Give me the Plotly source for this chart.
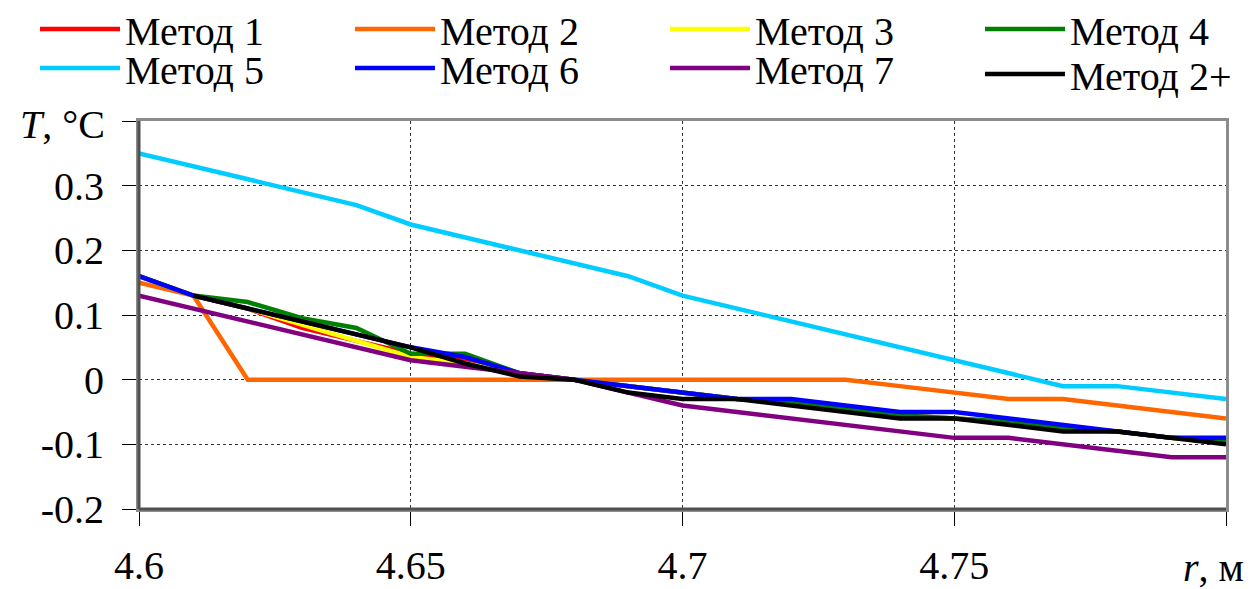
import plotly.graph_objects as go

r = [4.60, 4.61, 4.62, 4.63, 4.64, 4.65, 4.66, 4.67, 4.68, 4.69, 4.70,
     4.71, 4.72, 4.73, 4.74, 4.75, 4.76, 4.77, 4.78, 4.79, 4.80]

names = ["Метод 1", "Метод 2", "Метод 3", "Метод 4",
         "Метод 5", "Метод 6", "Метод 7", "Метод 2+"]

m1 = [0.16, 0.13, 0.11, 0.08, 0.06, 0.04, 0.03, 0.01, 0.0, -0.01, -0.02,
      -0.03, -0.035, -0.045, -0.055, -0.06, -0.065, -0.075, -0.08, -0.09, -0.095]
m2 = [0.15, 0.13, 0.0, 0.0, 0.0, 0.0, 0.0, 0.0, 0.0, 0.0, 0.0,
      0.0, 0.0, 0.0, -0.01, -0.02, -0.03, -0.03, -0.04, -0.05, -0.06]
m3 = [0.16, 0.13, 0.11, 0.085, 0.06, 0.035, 0.025, 0.01, 0.0, -0.01, -0.02,
      -0.03, -0.035, -0.045, -0.055, -0.06, -0.065, -0.075, -0.08, -0.09, -0.095]
m4 = [0.16, 0.13, 0.12, 0.095, 0.08, 0.04, 0.04, 0.01, 0.0, -0.01, -0.02,
      -0.03, -0.035, -0.045, -0.055, -0.06, -0.065, -0.075, -0.08, -0.09, -0.095]
m5 = [0.35, 0.33, 0.31, 0.29, 0.27, 0.24, 0.22, 0.20, 0.18, 0.16, 0.13,
      0.11, 0.09, 0.07, 0.05, 0.03, 0.01, -0.01, -0.01, -0.02, -0.03]
m6 = [0.16, 0.13, 0.11, 0.09, 0.07, 0.05, 0.035, 0.01, 0.0, -0.01, -0.02,
      -0.03, -0.03, -0.04, -0.05, -0.05, -0.06, -0.07, -0.08, -0.09, -0.09]
m7 = [0.13, 0.11, 0.09, 0.07, 0.05, 0.03, 0.02, 0.01, 0.0, -0.02, -0.04,
      -0.05, -0.06, -0.07, -0.08, -0.09, -0.09, -0.10, -0.11, -0.12, -0.12]
m2p = [None, 0.13, 0.11, 0.09, 0.07, 0.05, 0.025, 0.005, 0.0, -0.02, -0.03,
       -0.03, -0.04, -0.05, -0.06, -0.06, -0.07, -0.08, -0.08, -0.09, -0.10]

series = [m1, m2, m3, m4, m5, m6, m7, m2p]
colors = ["#FF0000", "#FF6600", "#FFFF00", "#008000",
          "#00CCFF", "#0000FF", "#800080", "#000000"]

x_ticks = [4.6, 4.65, 4.7, 4.75, 4.8]
x_labels = ["4.6", "4.65", "4.7", "4.75", ""]
y_ticks = [-0.2, -0.1, 0, 0.1, 0.2, 0.3, 0.4]
y_labels = ["-0.2", "-0.1", "0", "0.1", "0.2", "0.3", ""]

FONT = "'Liberation Serif', 'Times New Roman', Times, serif"
FS = 40

# page body has an 8px margin; figure is sized to fill the rest of the window
W, H = 1248, 581
L, R, T, B = 131, 30, 113, 80
PW, PH = W - L - R, H - T - B

fig = go.Figure()
legend_ids = ["legend"] + ["legend%d" % k for k in range(2, 9)]
for i, (nm, ys, c) in enumerate(zip(names, series, colors)):
    fig.add_trace(go.Scatter(
        x=r, y=ys, name=nm, mode="lines",
        line=dict(color=c, width=4.5),
        legend=legend_ids[i],
    ))

# legend entry positions (figure pixels: left of item, vertical centre)
leg_x = [27, 342, 657, 972, 27, 342, 657, 972]
leg_y = [21, 21, 21, 21, 60, 60, 60, 66]

legends = {}
for i, lid in enumerate(legend_ids):
    legends[lid] = dict(
        orientation="h", xref="container", yref="container",
        x=leg_x[i] / W, y=1 - leg_y[i] / H,
        xanchor="left", yanchor="middle",
        font=dict(family=FONT, size=FS, color="black"),
        itemwidth=80, bgcolor="rgba(0,0,0,0)", borderwidth=0,
    )

fig.update_layout(
    width=W, height=H,
    margin=dict(l=L, r=R, t=T, b=B, autoexpand=False),
    paper_bgcolor="white", plot_bgcolor="white",
    font=dict(family=FONT, size=FS, color="black"),
    showlegend=True,
    **legends,
)

axis_common = dict(
    showgrid=True, gridcolor="#333333", gridwidth=1, griddash="3px,3px",
    showline=True, linecolor="#8C8C8C", linewidth=3, mirror=True,
    ticks="outside", ticklen=14, tickcolor="black", tickwidth=1,
    zeroline=False, tickfont=dict(family=FONT, size=FS),
)
fig.update_xaxes(range=[4.6, 4.8], tickvals=x_ticks, ticktext=x_labels,
                 ticklabelstandoff=5, **axis_common)
fig.update_yaxes(range=[-0.2, 0.4], tickvals=y_ticks, ticktext=y_labels,
                 ticklabelstandoff=10, **axis_common)

# darker left and bottom frame edges
fig.add_shape(type="line", xref="paper", yref="paper", x0=0, x1=0, y0=0, y1=1,
              line=dict(color="#505050", width=3), layer="above")
fig.add_shape(type="line", xref="paper", yref="paper", x0=0, x1=1, y0=0, y1=0,
              line=dict(color="#505050", width=3), layer="above")

fig.add_annotation(text="<i>T</i>, °C", xref="paper", yref="paper",
                   x=(99 - L) / PW, y=(T + PH - 117) / PH,
                   xanchor="right", yanchor="middle", showarrow=False,
                   font=dict(family=FONT, size=FS))
fig.add_annotation(text="<i>r</i>, м", xref="paper", yref="paper",
                   x=(1238 - L) / PW, y=(T + PH - 559) / PH,
                   xanchor="right", yanchor="middle", showarrow=False,
                   font=dict(family=FONT, size=FS))

fig.write_html("out.html")
